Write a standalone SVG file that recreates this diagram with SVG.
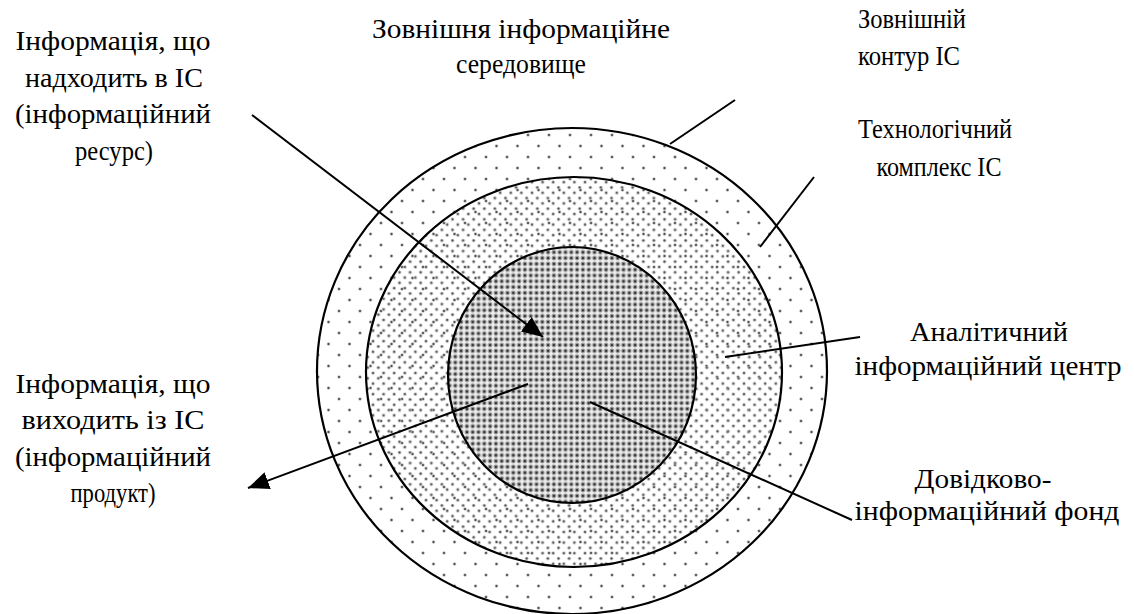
<svg xmlns="http://www.w3.org/2000/svg" width="1134" height="614" viewBox="0 0 1134 614">
<style>
.t text{font-size:27px;fill:#000}
.c{text-anchor:middle}
.ring{stroke:#000;stroke-width:2.2}
.ln{stroke:#000;stroke-width:2;fill:none}
</style>
<defs>
<pattern id="pOuter" patternUnits="userSpaceOnUse" width="21" height="22">
<circle cx="3" cy="3" r="1.8" fill="#bbb"/><circle cx="3" cy="3" r="1" fill="#444"/>
<circle cx="13.5" cy="14" r="1.8" fill="#bbb"/><circle cx="13.5" cy="14" r="1" fill="#444"/>
</pattern>
<pattern id="pMid" patternUnits="userSpaceOnUse" width="10.6" height="10.6">
<circle cx="2" cy="2" r="1.8" fill="#bbb"/><circle cx="2" cy="2" r="1" fill="#444"/>
<circle cx="7.3" cy="7.3" r="1.8" fill="#bbb"/><circle cx="7.3" cy="7.3" r="1" fill="#444"/>
</pattern>
<pattern id="pInner" patternUnits="userSpaceOnUse" width="5.8" height="5.8">
<rect width="5.8" height="5.8" fill="#eee"/>
<circle cx="2.9" cy="2.9" r="2.4" fill="#999"/><circle cx="2.9" cy="2.9" r="1.2" fill="#333"/>
</pattern>
<marker id="arr" markerUnits="userSpaceOnUse" markerWidth="22" markerHeight="18" refX="21" refY="9" orient="auto">
<path d="M0,0 L21,9 L0,18 z" fill="#000"/>
</marker>
</defs>
<g id="outer-ring"><ellipse class="ring" cx="572" cy="371" rx="255" ry="243" fill="url(#pOuter)"/></g>
<g id="middle-ring"><ellipse class="ring" cx="574" cy="372" rx="208" ry="195" fill="url(#pMid)"/></g>
<g id="inner-core"><ellipse class="ring" cx="572" cy="375" rx="124" ry="128" fill="url(#pInner)"/></g>
<g id="connectors">
<line class="ln" x1="252" y1="115" x2="543" y2="337" marker-end="url(#arr)"/>
<line class="ln" x1="528" y1="384" x2="248" y2="488" marker-end="url(#arr)"/>
<line class="ln" x1="735" y1="100" x2="670" y2="144"/>
<line class="ln" x1="814" y1="177" x2="760" y2="247"/>
<line class="ln" x1="725" y1="357" x2="860" y2="337"/>
<line class="ln" x1="590" y1="402" x2="852" y2="520"/>
</g>
<g class="t" font-family="'Liberation Serif', 'Times New Roman', serif">
<g id="label-input">
<text class="c" x="113" y="50" textLength="195" lengthAdjust="spacingAndGlyphs">Інформація, що</text>
<text class="c" x="114" y="87" textLength="178" lengthAdjust="spacingAndGlyphs">надходить в ІС</text>
<text class="c" x="113" y="123" textLength="196" lengthAdjust="spacingAndGlyphs">(інформаційний</text>
<text class="c" x="114" y="160" textLength="78" lengthAdjust="spacingAndGlyphs">ресурс)</text>
</g>
<g id="label-output">
<text class="c" x="113" y="393" textLength="195" lengthAdjust="spacingAndGlyphs">Інформація, що</text>
<text class="c" x="113" y="429" textLength="183" lengthAdjust="spacingAndGlyphs">виходить із ІС</text>
<text class="c" x="113" y="466" textLength="196" lengthAdjust="spacingAndGlyphs">(інформаційний</text>
<text class="c" x="113" y="502" textLength="85" lengthAdjust="spacingAndGlyphs">продукт)</text>
</g>
<g id="label-environment">
<text class="c" x="521" y="38" textLength="298" lengthAdjust="spacingAndGlyphs">Зовнішня інформаційне</text>
<text class="c" x="521" y="73" textLength="130" lengthAdjust="spacingAndGlyphs">середовище</text>
</g>
<g id="label-contour">
<text x="858" y="28" textLength="108" lengthAdjust="spacingAndGlyphs">Зовнішній</text>
<text x="858" y="65" textLength="102" lengthAdjust="spacingAndGlyphs">контур ІС</text>
</g>
<g id="label-tech">
<text class="c" x="935" y="138" textLength="154" lengthAdjust="spacingAndGlyphs">Технологічний</text>
<text class="c" x="939" y="176" textLength="125" lengthAdjust="spacingAndGlyphs">комплекс ІС</text>
</g>
<g id="label-analytic">
<text class="c" x="989" y="341" textLength="158" lengthAdjust="spacingAndGlyphs">Аналітичний</text>
<text class="c" x="988" y="375" textLength="267" lengthAdjust="spacingAndGlyphs">інформаційний центр</text>
</g>
<g id="label-fund">
<text class="c" x="983" y="488" textLength="137" lengthAdjust="spacingAndGlyphs">Довідково-</text>
<text class="c" x="987" y="520" textLength="265" lengthAdjust="spacingAndGlyphs">інформаційний фонд</text>
</g>
</g>
</svg>
